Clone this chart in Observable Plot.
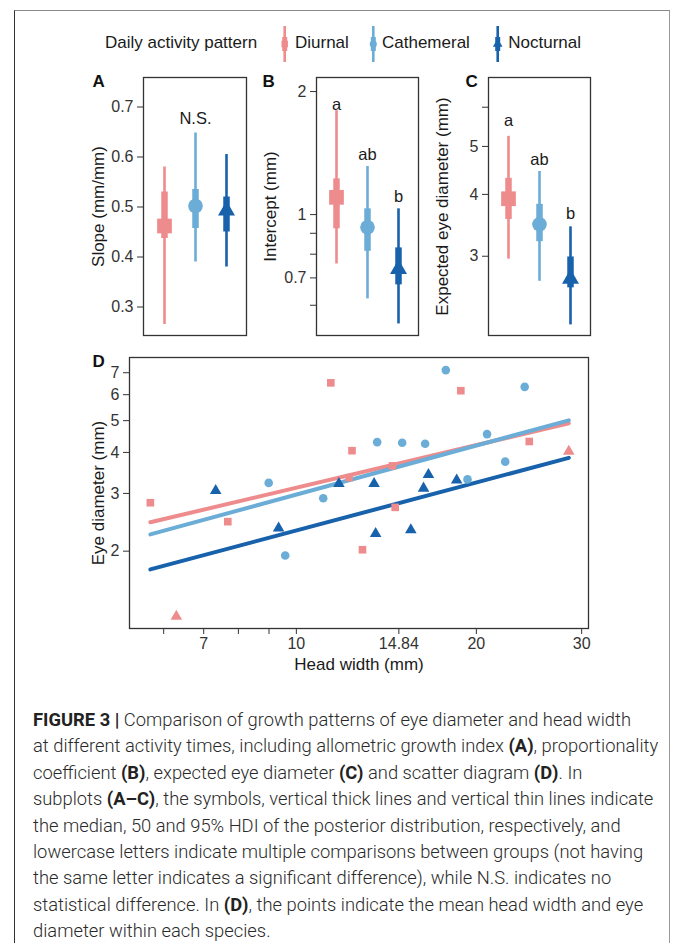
<!DOCTYPE html>
<html>
<head>
<meta charset="utf-8">
<script src="https://cdn.jsdelivr.net/npm/d3@7"></script>
<script src="https://cdn.jsdelivr.net/npm/@observablehq/plot@0.6"></script>
<style>
  html, body { margin: 0; padding: 0; background: #fff; }
  #page { position: relative; width: 676px; height: 943px; overflow: hidden; font-family: "Liberation Sans", Arial, Helvetica, sans-serif; }
  #border { position: absolute; left: 14px; top: 10px; width: 656px; height: 1000px; border-top: 1px solid #8a8a8a; border-right: 1.5px solid #9a9a9a; border-left: 1.5px solid #333; box-sizing: border-box; }
  .panel { position: absolute; }
  #legend { position: absolute; left: 0; top: 0; }
  #caption { position: absolute; left: 33px; top: 707px; color: #2a2a2a; font-family: Roboto, "Liberation Sans", Arial, sans-serif; font-weight: 300; font-size: 18.5px; line-height: 26.4px; transform-origin: 0 0; }
  #caption div { white-space: nowrap; width: max-content; }
  #caption b { font-weight: 700; color: #222; }
</style>
</head>
<body>
<div id="page">
  <div id="border"></div>
  <div id="legend"></div>
  <div class="panel" id="pA" style="left:80px;top:60px;width:180px;height:285px"></div>
  <div class="panel" id="pB" style="left:250px;top:60px;width:180px;height:285px"></div>
  <div class="panel" id="pC" style="left:420px;top:60px;width:185px;height:285px"></div>
  <div class="panel" id="pD" style="left:80px;top:340px;width:520px;height:340px"></div>
  <div id="caption">
    <div><b>FIGURE 3 |</b> Comparison of growth patterns of eye diameter and head width</div>
    <div>at different activity times, including allometric growth index <b>(A)</b>, proportionality</div>
    <div>coefficient <b>(B)</b>, expected eye diameter <b>(C)</b> and scatter diagram <b>(D)</b>. In</div>
    <div>subplots <b>(A–C)</b>, the symbols, vertical thick lines and vertical thin lines indicate</div>
    <div>the median, 50 and 95% HDI of the posterior distribution, respectively, and</div>
    <div>lowercase letters indicate multiple comparisons between groups (not having</div>
    <div>the same letter indicates a significant difference), while N.S. indicates no</div>
    <div>statistical difference. In <b>(D)</b>, the points indicate the mean head width and eye</div>
    <div>diameter within each species.</div>
  </div>
</div>
<script>
// ---------------- DATA ----------------
const groups = ["Diurnal", "Cathemeral", "Nocturnal"];
const legendTitle = "Daily activity pattern";

// Panel A: slope (allometric growth index)
const slopeMedian = [0.462, 0.502, 0.493];
const slope50Low  = [0.437, 0.457, 0.450];
const slope50High = [0.530, 0.535, 0.520];
const slope95Low  = [0.265, 0.390, 0.380];
const slope95High = [0.580, 0.648, 0.605];
const slopeLetters = ["", "N.S.", ""];
const slopeLetterY = [null, 0.667, null];
const slopeTicks = [0.3, 0.4, 0.5, 0.6, 0.7];
const slopeTickLabels = ["0.3", "0.4", "0.5", "0.6", "0.7"];

// Panel B: intercept (proportionality coefficient)
const interceptMedian = [1.102, 0.931, 0.736];
const intercept50Low  = [0.923, 0.813, 0.673];
const intercept50High = [1.223, 1.033, 0.829];
const intercept95Low  = [0.757, 0.622, 0.540];
const intercept95High = [1.797, 1.311, 1.033];
const interceptLetters = ["a", "ab", "b"];
const interceptLetterY = [1.804, 1.361, 1.076];
const interceptTicks = [0.6, 0.7, 0.8, 0.9, 1, 2];
const interceptTickLabels = ["", "0.7", "", "", "1", "2"];

// Panel C: expected eye diameter
const expEyeMedian = [3.92, 3.48, 2.70];
const expEye50Low  = [3.56, 3.21, 2.59];
const expEye50High = [4.31, 3.82, 2.99];
const expEye95Low  = [2.96, 2.67, 2.18];
const expEye95High = [5.24, 4.45, 3.44];
const expEyeLetters = ["a", "ab", "b"];
const expEyeLetterY = [5.49, 4.59, 3.56];
const expEyeTicks = [3, 4, 5, 6];
const expEyeTickLabels = ["3", "4", "5", ""];

// Panel D: species means
const speciesPattern = [
  "Diurnal","Diurnal","Diurnal","Diurnal","Diurnal","Diurnal","Diurnal","Diurnal","Diurnal","Diurnal",
  "Diurnal","Diurnal",
  "Cathemeral","Cathemeral","Cathemeral","Cathemeral","Cathemeral","Cathemeral","Cathemeral","Cathemeral","Cathemeral","Cathemeral","Cathemeral",
  "Nocturnal","Nocturnal","Nocturnal","Nocturnal","Nocturnal","Nocturnal","Nocturnal","Nocturnal","Nocturnal"
];
const speciesShape = [
  "square","square","square","square","square","square","square","square","square","square",
  "triangle","triangle",
  "circle","circle","circle","circle","circle","circle","circle","circle","circle","circle","circle",
  "triangle","triangle","triangle","triangle","triangle","triangle","triangle","triangle","triangle"
];
const speciesHeadWidth = [
  5.70, 7.68, 11.42, 12.39, 12.25, 12.90, 14.48, 14.63, 18.84, 24.52,
  6.30, 28.55,
  8.99, 11.09, 9.58, 13.65, 15.03, 16.42, 17.78, 20.84, 19.33, 22.35, 24.09,
  7.33, 9.34, 11.78, 13.49, 13.57, 15.54, 16.63, 16.32, 18.54
];
const speciesEyeDiameter = [
  2.81, 2.46, 6.52, 4.05, 3.35, 2.02, 3.64, 2.72, 6.17, 4.32,
  1.265, 4.03,
  3.23, 2.90, 1.94, 4.30, 4.28, 4.25, 7.13, 4.55, 3.31, 3.75, 6.34,
  3.06, 2.35, 3.21, 3.21, 2.26, 2.32, 3.42, 3.11, 3.29
];
const fitHeadWidth = [5.70, 28.55];
const fitEyeDiurnal = [2.45, 4.91];
const fitEyeCathemeral = [2.25, 5.01];
const fitEyeNocturnal = [1.76, 3.85];
const headTicks = [6, 7, 8, 9, 10, 14.84, 20, 30];
const headTickLabels = ["", "7", "", "", "10", "14.84", "20", "30"];
const eyeDiamTicks = [2, 3, 4, 5, 6, 7];
const eyeDiamTickLabels = ["2", "3", "4", "5", "6", "7"];

// ---------------- STYLE ----------------
const palette = ["#ee8c8d", "#6badd6", "#1862ab"];
const bigSymbol = {Diurnal: ["square", 8.3], Cathemeral: ["circle", 7.3], Nocturnal: ["triangle", 6.3]};
const fontFamily = '"Liberation Sans", Arial, Helvetica, sans-serif';
const ink = "#1a1a1a";
const tickInk = "#333";
const frameStroke = "#333";
const tickFont = 16;

function labeler(ticks, labels) {
  return d => { const i = ticks.findIndex(t => Math.abs(t - d) < 1e-9); return i >= 0 ? labels[i] : ""; };
}

function intervalPanel(el, o) {
  const rows = groups.map((g, i) => ({
    group: g, median: o.median[i], lo50: o.lo50[i], hi50: o.hi50[i], lo95: o.lo95[i], hi95: o.hi95[i],
    letter: o.letters[i], letterY: o.letterY[i]
  }));
  const letterRows = rows.filter(d => d.letter);
  const plot = Plot.plot({
    width: o.width, height: 285,
    marginLeft: o.marginLeft, marginRight: o.marginRight, marginTop: 17, marginBottom: 10,
    style: {fontFamily, fontSize: "16px", color: tickInk, background: "transparent", overflow: "visible"},
    x: {type: "point", domain: groups, padding: 0.61, axis: null},
    y: {type: o.type, domain: o.domain, label: null},
    color: {domain: groups, range: palette},
    marks: [
      Plot.axisY(o.ticks, {tickFormat: labeler(o.ticks, o.tickLabels), tickSize: 6, tickPadding: 4, fontSize: tickFont, label: null, stroke: tickInk, fill: tickInk}),
      Plot.ruleX(rows, {x: "group", y1: "lo95", y2: "hi95", stroke: "group", strokeWidth: 2.6}),
      Plot.ruleX(rows, {x: "group", y1: "lo50", y2: "hi50", stroke: "group", strokeWidth: 6.5}),
      ...groups.map(g => Plot.dot(rows.filter(d => d.group === g), {x: "group", y: "median", fill: "group", symbol: bigSymbol[g][0], r: bigSymbol[g][1]})),
      Plot.text(letterRows, {x: "group", y: "letterY", text: "letter", lineAnchor: "bottom", fontSize: 16.5, fill: ink}),
      Plot.frame({stroke: frameStroke, strokeWidth: 1.3}),
      Plot.text([o.title], {frameAnchor: "left", rotate: -90, dx: o.titleDx, textAnchor: "middle", lineAnchor: "middle", fontSize: 17, fill: ink}),
      Plot.text([o.tag], {frameAnchor: "top-left", dx: o.tagDx, dy: 9, textAnchor: "start", lineAnchor: "bottom", fontSize: 17, fontWeight: "bold", fill: "#111"})
    ]
  });
  el.appendChild(plot);
}

intervalPanel(document.getElementById("pA"), {
  width: 180, marginLeft: 63, marginRight: 14, type: "linear", domain: [0.243, 0.759],
  ticks: slopeTicks, tickLabels: slopeTickLabels,
  median: slopeMedian, lo50: slope50Low, hi50: slope50High, lo95: slope95Low, hi95: slope95High,
  letters: slopeLetters, letterY: slopeLetterY, title: "Slope (mm/mm)", titleDx: -45, tag: "A", tagDx: -51
});
intervalPanel(document.getElementById("pB"), {
  width: 180, marginLeft: 66, marginRight: 12, type: "log", domain: [0.506, 2.165],
  ticks: interceptTicks, tickLabels: interceptTickLabels,
  median: interceptMedian, lo50: intercept50Low, hi50: intercept50High, lo95: intercept95Low, hi95: intercept95High,
  letters: interceptLetters, letterY: interceptLetterY, title: "Intercept (mm)", titleDx: -46, tag: "B", tagDx: -54
});
intervalPanel(document.getElementById("pC"), {
  width: 185, marginLeft: 68, marginRight: 15, type: "log", domain: [2.075, 6.89],
  ticks: expEyeTicks, tickLabels: expEyeTickLabels,
  median: expEyeMedian, lo50: expEye50Low, hi50: expEye50High, lo95: expEye95Low, hi95: expEye95High,
  letters: expEyeLetters, letterY: expEyeLetterY, title: "Expected eye diameter (mm)", titleDx: -45.5, tag: "C", tagDx: -23
});

// Panel D
const points = speciesHeadWidth.map((x, i) => ({x, y: speciesEyeDiameter[i], group: speciesPattern[i], shape: speciesShape[i]}));
const fits = [
  ...fitHeadWidth.map((x, i) => ({x, y: fitEyeDiurnal[i], group: "Diurnal"})),
  ...fitHeadWidth.map((x, i) => ({x, y: fitEyeCathemeral[i], group: "Cathemeral"})),
  ...fitHeadWidth.map((x, i) => ({x, y: fitEyeNocturnal[i], group: "Nocturnal"}))
];
const plotD = Plot.plot({
  width: 520, height: 340,
  marginLeft: 49, marginRight: 12, marginTop: 17, marginBottom: 52,
  style: {fontFamily, fontSize: "16px", color: tickInk, background: "transparent", overflow: "visible"},
  x: {type: "log", domain: [5.26, 30.8], label: null},
  y: {type: "log", domain: [1.162, 7.79], label: null},
  color: {domain: groups, range: palette},
  symbol: {domain: ["square", "circle", "triangle"], range: ["square", "circle", "triangle"]},
  marks: [
    Plot.axisX(headTicks, {tickFormat: labeler(headTicks, headTickLabels), tickSize: 6, tickPadding: 3, fontSize: tickFont, label: null, stroke: tickInk, fill: tickInk}),
    Plot.axisY(eyeDiamTicks, {tickFormat: labeler(eyeDiamTicks, eyeDiamTickLabels), tickSize: 6, tickPadding: 4, fontSize: tickFont, label: null, stroke: tickInk, fill: tickInk}),
    Plot.line(fits, {x: "x", y: "y", z: "group", stroke: "group", strokeWidth: 4}),
    Plot.dot(points, {x: "x", y: "y", fill: "group", symbol: "shape", r: 4.3}),
    Plot.frame({stroke: frameStroke, strokeWidth: 1.3}),
    Plot.text(["Eye diameter (mm)"], {frameAnchor: "left", rotate: -90, dx: -31, textAnchor: "middle", lineAnchor: "middle", fontSize: 17, fill: ink}),
    Plot.text(["Head width (mm)"], {frameAnchor: "bottom", dy: 41, textAnchor: "middle", lineAnchor: "bottom", fontSize: 17, fill: ink}),
    Plot.text(["D"], {frameAnchor: "top-left", dx: -37, dy: 9, textAnchor: "start", lineAnchor: "bottom", fontSize: 17, fontWeight: "bold", fill: "#111"})
  ]
});
document.getElementById("pD").appendChild(plotD);

// Legend
(function legend() {
  const svg = d3.select("#legend").append("svg").attr("width", 676).attr("height", 70)
    .style("font-family", fontFamily);
  svg.append("text").attr("x", 105).attr("y", 48).attr("font-size", 17).attr("fill", ink).text(legendTitle);
  const keyX = [284.7, 373.3, 497.7];
  const textX = [295, 382, 508.3];
  const syms = [d3.symbolSquare, d3.symbolCircle, d3.symbolTriangle];
  const sizes = [42, 40, 40];
  groups.forEach((g, i) => {
    const k = svg.append("g").attr("transform", `translate(${keyX[i]},44)`);
    k.append("line").attr("y1", -18).attr("y2", 18).attr("stroke", palette[i]).attr("stroke-width", 2.6);
    k.append("line").attr("y1", -7).attr("y2", 7).attr("stroke", palette[i]).attr("stroke-width", 5);
    k.append("path").attr("d", d3.symbol(syms[i], sizes[i])()).attr("fill", palette[i]);
    svg.append("text").attr("x", textX[i]).attr("y", 48).attr("font-size", 17).attr("fill", ink).text(g);
  });
})();

// Caption width fit
(function fitCaption() {
  const cap = document.getElementById("caption");
  const first = cap.firstElementChild;
  const w = first.getBoundingClientRect().width;
  const target = 598;
  if (w > 0) cap.style.transform = `scaleX(${target / w})`;
})();
</script>
</body>
</html>
